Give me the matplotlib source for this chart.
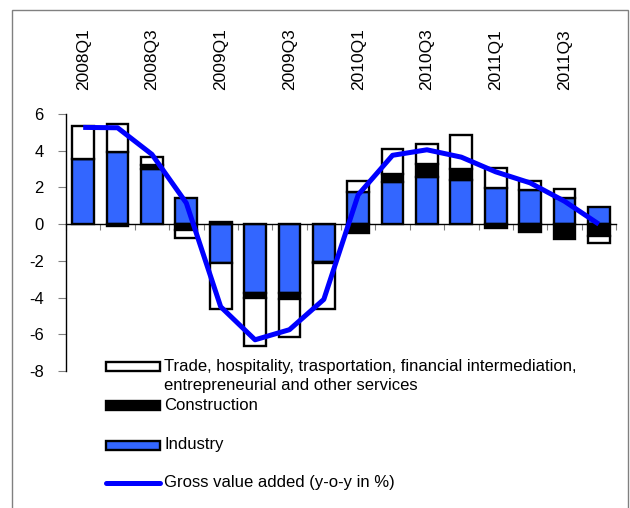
import numpy as np
import matplotlib
matplotlib.use("Agg")
import matplotlib.pyplot as plt
from matplotlib.patches import Rectangle
from matplotlib.lines import Line2D

plt.rcParams["font.family"] = ["Liberation Sans", "DejaVu Sans"]
plt.rcParams["axes.unicode_minus"] = False

# ── data ──────────────────────────────────────
quarters = ["2008Q1", "2008Q2", "2008Q3", "2008Q4",
            "2009Q1", "2009Q2", "2009Q3", "2009Q4",
            "2010Q1", "2010Q2", "2010Q3", "2010Q4",
            "2011Q1", "2011Q2", "2011Q3", "2011Q4"]
industry = [3.56, 3.93, 3.02, 1.42, -2.11, -3.76, -3.73, -2.07,
            1.73, 2.27, 2.55, 2.42, 1.98, 1.87, 1.42, 0.96]
construction = [0.0, -0.12, 0.22, -0.31, 0.13, -0.24, -0.35, -0.05,
                -0.49, 0.47, 0.73, 0.60, -0.22, -0.44, -0.82, -0.64]
services = [1.79, 1.52, 0.40, -0.45, -2.53, -2.64, -2.05, -2.50,
            0.60, 1.35, 1.08, 1.82, 1.07, 0.46, 0.49, -0.36]
gva = [5.27, 5.25, 3.80, 1.15, -4.50, -6.30, -5.75, -4.10,
       1.60, 3.75, 4.05, 3.65, 2.85, 2.25, 1.25, 0.0]

# ── colours ───────────────────────────────────
CLR_IND = "#3366FF"
CLR_CON = "#000000"
CLR_SRV = "#FFFFFF"
CLR_GVA = "#0000FF"
CLR_FRAME = "#808080"

W, H = 630, 508
fig = plt.figure(figsize=(W / 100, H / 100), dpi=100)


def fx(px):
    return px / W


def fy(py):
    return 1 - py / H


ax = fig.add_axes([fx(66), fy(371), (616 - 66) / W, (371 - 114) / H])

x = np.arange(len(quarters))
pos_base = np.zeros(len(x))
neg_base = np.zeros(len(x))
for vals, color in [(industry, CLR_IND), (construction, CLR_CON), (services, CLR_SRV)]:
    v = np.array(vals)
    base = np.where(v >= 0, pos_base, neg_base)
    ax.bar(x, v, bottom=base, width=0.63, color=color,
           edgecolor="black", linewidth=1.7, zorder=2)
    pos_base += np.clip(v, 0, None)
    neg_base += np.clip(v, None, 0)

ax.plot(x, gva, color=CLR_GVA, lw=3.6, solid_capstyle="butt",
        solid_joinstyle="round", zorder=3)

ax.set_xlim(-0.5, 15.5)
ax.set_ylim(-8, 6)
ax.set_yticks(np.arange(-8, 7, 2))
ax.tick_params(axis="y", direction="out", length=6, color="#808080",
               labelsize=12, pad=10)
ax.set_xticks(np.arange(-0.5, 16, 1))
ax.set_xticklabels([])
ax.tick_params(axis="x", direction="out", length=4, color="#808080")
ax.spines["bottom"].set_position(("data", 0))
ax.spines["top"].set_visible(False)
ax.spines["right"].set_visible(False)
ax.spines["left"].set_linewidth(1.0)
ax.spines["bottom"].set_linewidth(1.0)

# quarter labels on top
ax_top = ax.twiny()
ax_top.set_xlim(ax.get_xlim())
ax_top.set_xticks(x[::2])
ax_top.set_xticklabels(quarters[::2], rotation=90, fontsize=12.5)
ax_top.tick_params(axis="x", length=0, pad=17)
for s in ax_top.spines.values():
    s.set_visible(False)

# ── legend (drawn by hand) ────────────────────
fs = 12
fig.patches.append(Rectangle((fx(106), fy(371)), fx(160) - fx(106), fy(362) - fy(371),
                             transform=fig.transFigure, facecolor=CLR_SRV,
                             edgecolor="black", lw=1.7))
fig.text(fx(164), fy(376), "Trade, hospitality, trasportation, financial intermediation,\n"
         "entrepreneurial and other services", fontsize=fs, va="center",
         ha="left", linespacing=1.3)
fig.patches.append(Rectangle((fx(106), fy(410)), fx(160) - fx(106), fy(401) - fy(410),
                             transform=fig.transFigure, facecolor=CLR_CON,
                             edgecolor="black", lw=1.7))
fig.text(fx(164), fy(405), "Construction", fontsize=fs, va="center", ha="left")
fig.patches.append(Rectangle((fx(106), fy(450)), fx(160) - fx(106), fy(441) - fy(450),
                             transform=fig.transFigure, facecolor=CLR_IND,
                             edgecolor="black", lw=1.7))
fig.text(fx(164), fy(445), "Industry", fontsize=fs, va="center", ha="left")
fig.lines.append(Line2D([fx(106), fx(160)], [fy(483), fy(483)],
                        transform=fig.transFigure, color=CLR_GVA, lw=3.6,
                        solid_capstyle="round"))
fig.text(fx(164), fy(483), "Gross value added (y-o-y in %)", fontsize=fs,
         va="center", ha="left")

# outer frame
fig.patches.append(Rectangle((fx(12), -0.05), fx(628) - fx(12), fy(10) + 0.05,
                             transform=fig.transFigure, fill=False,
                             edgecolor=CLR_FRAME, lw=1.0, clip_on=False))

fig.savefig("out.png", dpi=100)
